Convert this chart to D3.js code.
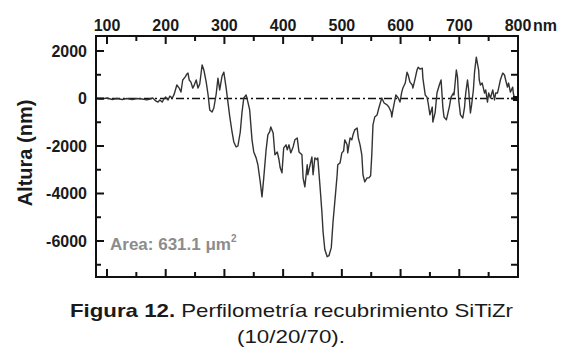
<!DOCTYPE html>
<html>
<head>
<meta charset="utf-8">
<script src="https://cdn.jsdelivr.net/npm/d3@7"></script>
<style>
  body { margin: 0; background: #fff; }
  svg { display: block; font-family: "Liberation Sans", Arial, sans-serif; }
</style>
</head>
<body>
<svg id="chart" width="570" height="357"></svg>
<script>
// profile: position (nm on top axis) and height (nm)
const posX = [83, 91, 100, 109, 117, 126, 134, 143, 151, 160, 168, 173, 178, 183, 187, 190, 194, 197, 200, 204,
  207, 211, 214, 219, 223, 226, 229, 233, 236, 238, 240, 243, 246, 248, 252, 255, 258, 262, 265, 269,
  272, 275, 279, 282, 286, 289, 292, 296, 299, 303, 306, 309, 313, 316, 320, 323, 327, 330, 333, 337,
  340, 343, 347, 350, 354, 357, 361, 364, 367, 371, 374, 377, 379, 383, 386, 390, 393, 395, 398, 401,
  405, 407, 410, 413, 417, 420, 424, 427, 432, 434, 437, 441, 442, 446, 449, 451, 454, 458, 459, 463,
  466, 468, 471, 475, 478, 482, 485, 489, 492, 493, 497, 500, 503, 505, 509, 510, 514, 517, 519, 522,
  526, 528, 531, 534, 536, 539, 543, 546, 549, 551, 553, 556, 560, 563, 568, 572, 577, 580, 584, 585,
  587, 592, 596, 599, 602, 604, 608, 611, 613, 616, 620, 621, 625, 628, 630, 633, 637, 638, 642, 645,
  647, 650, 654, 655, 659, 662, 666, 669, 672, 674, 678, 681, 683, 686, 690, 691, 695, 697, 699, 702,
  706, 709, 711, 714, 716, 719, 721, 724, 726, 729, 733, 734, 736, 739, 743, 745, 748, 750, 753, 757,
  760, 762, 765, 767, 770, 774, 777, 779, 782, 784, 787, 791, 792, 794, 798, 800];
const heightY = [0, -20, 20, -40, 0, -40, 0, -40, 0, -20, -60, -20, 20, -100, -150, -60, -150, -20, 60, -60,
  100, 20, 150, 570, 440, 270, 780, 900, 1030, 1070, 780, 690, 440, 530, 780, 440, 610, 1410, 1200, 690,
  190, -480, -570, -400, 190, 860, 360, 950, 1110, 440, -150, -740, -1410, -1830, -2040, -2000, -1410, -570, 20, 150,
  -150, -480, -1740, -2250, -2500, -2790, -3510, -4140, -3340, -2160, -1530, -1410, -1200, -1450, -2370, -2250, -2580, -2920, -3130, -2080,
  -1950, -2160, -1950, -2290, -2040, -1740, -1660, -2250, -2370, -3340, -3720, -2790, -3210, -2790, -2460, -3210, -2500, -2580, -2500, -3760,
  -4770, -5610, -6360, -6660, -6620, -6280, -5190, -4070, -3210, -2790, -2710, -2290, -2210, -1740, -1950, -2290, -1660, -1740, -1530, -1320,
  -1240, -1660, -1950, -2370, -3210, -3510, -3340, -3340, -3250, -2370, -1110, -780, -690, -400, 20, -190, -270, -360, -570, -780,
  -480, 150, 20, -150, 270, 440, 650, 1110, 990, 690, 570, 440, 860, 1200, 1320, 1240, 1280, 860, 150, 60,
  -190, -690, -360, -990, -570, 230, 570, 780, -360, -780, -900, -570, -360, 60, 230, 150, 1200, 900, -60, -690,
  -820, -360, 230, 780, 360, -610, -270, 360, 1110, 1740, 1200, 780, 570, 650, 230, 360, -150, 230, 20, 360,
  -60, 230, 230, 440, 780, 1070, 990, 780, 480, 650, 270, 480, 230, 20, -60, -150];

const topTicks = [100, 200, 300, 400, 500, 600, 700, 800];
const topMinor = [150, 250, 350, 450, 550, 650, 750];
const leftTicks = [2000, 0, -2000, -4000, -6000];
const leftMinor = [1000, -1000, -3000, -5000, -7000];
const rightTicks = [2000, 1000, 0, -1000, -2000, -3000, -4000, -5000, -6000, -7000];
const areaLabel = "Area: 631.1 \u03bcm";

const margin = { top: 36, right: 52, bottom: 80, left: 96 },
  width = 570 - margin.left - margin.right,
  height = 357 - margin.top - margin.bottom;

const svg = d3.select("#chart");
const g = svg.append("g").attr("transform", `translate(${margin.left},${margin.top})`);

const x = d3.scaleLinear().domain([81.3, 800]).range([0, width]);
const y = d3.scaleLinear().domain([-7516, 2632]).range([height, 0]);

// zero reference line (dash-dot)
g.append("line")
  .attr("x1", 0).attr("x2", width)
  .attr("y1", y(0)).attr("y2", y(0))
  .attr("stroke", "#111").attr("stroke-width", 1.6)
  .attr("stroke-dasharray", "8,3,2,3");

// profile
const pts = posX.map((d, i) => [d, heightY[i]]);
g.append("path")
  .datum(pts)
  .attr("fill", "none")
  .attr("stroke", "#333")
  .attr("stroke-width", 1.4)
  .attr("stroke-linejoin", "round")
  .attr("d", d3.line().x(d => x(d[0])).y(d => y(d[1])));

// end marker at the right edge
g.append("rect")
  .attr("x", x(800) - 5).attr("y", y(0) - 2.5)
  .attr("width", 5).attr("height", 5)
  .attr("fill", "#111");

// frame
g.append("rect")
  .attr("width", width).attr("height", height)
  .attr("fill", "none").attr("stroke", "#111").attr("stroke-width", 2);

// ticks (all pointing inward)
const tk = g.append("g").attr("stroke", "#111").attr("stroke-width", 2);
topTicks.forEach(v => {
  tk.append("line").attr("x1", x(v)).attr("x2", x(v)).attr("y1", 0).attr("y2", 8);
  tk.append("line").attr("x1", x(v)).attr("x2", x(v)).attr("y1", height).attr("y2", height - 8);
});
topMinor.forEach(v => {
  tk.append("line").attr("x1", x(v)).attr("x2", x(v)).attr("y1", 0).attr("y2", 5);
  tk.append("line").attr("x1", x(v)).attr("x2", x(v)).attr("y1", height).attr("y2", height - 5);
});
leftTicks.forEach(v => {
  tk.append("line").attr("x1", 0).attr("x2", 8).attr("y1", y(v)).attr("y2", y(v));
});
leftMinor.forEach(v => {
  tk.append("line").attr("x1", 0).attr("x2", 5).attr("y1", y(v)).attr("y2", y(v));
});
rightTicks.forEach(v => {
  tk.append("line").attr("x1", width).attr("x2", width - 7).attr("y1", y(v)).attr("y2", y(v));
});

// tick labels
g.selectAll(".xlab")
  .data(topTicks)
  .join("text")
  .attr("class", "xlab")
  .attr("x", d => x(d)).attr("y", -5)
  .attr("text-anchor", "middle")
  .style("font-size", "16px").style("font-weight", "bold").attr("fill", "#1a1a1a")
  .text(d => d);
g.append("text")
  .attr("x", x(800) + 15).attr("y", -5)
  .style("font-size", "16px").style("font-weight", "bold").attr("fill", "#1a1a1a")
  .text("nm");

g.selectAll(".ylab")
  .data(leftTicks)
  .join("text")
  .attr("class", "ylab")
  .attr("x", -9).attr("y", d => y(d)).attr("dy", "0.36em")
  .attr("text-anchor", "end")
  .style("font-size", "16px").style("font-weight", "bold").attr("fill", "#1a1a1a")
  .text(d => d);

// axis title
svg.append("text")
  .attr("transform", "translate(32,153) rotate(-90)")
  .attr("text-anchor", "middle")
  .style("font-size", "20px").style("font-weight", "bold").attr("fill", "#1a1a1a")
  .text("Altura (nm)");

// area annotation
const area = svg.append("text")
  .attr("x", 110).attr("y", 250)
  .style("font-size", "17px").style("font-weight", "bold").attr("fill", "#8c8c8c")
  .text(areaLabel);
area.append("tspan").attr("dy", -8).style("font-size", "10px").text("2");

// caption
const cap = svg.append("text")
  .attr("x", 70).attr("y", 317)
  .attr("textLength", 443).attr("lengthAdjust", "spacingAndGlyphs")
  .style("font-size", "19px").attr("fill", "#1a1a1a");
cap.append("tspan").style("font-weight", "bold").text("Figura 12.");
cap.append("tspan").text(" Perfilometría recubrimiento SiTiZr");
svg.append("text")
  .attr("x", 237).attr("y", 343)
  .attr("textLength", 108).attr("lengthAdjust", "spacingAndGlyphs")
  .style("font-size", "19px").attr("fill", "#1a1a1a")
  .text("(10/20/70).");
</script>
</body>
</html>
